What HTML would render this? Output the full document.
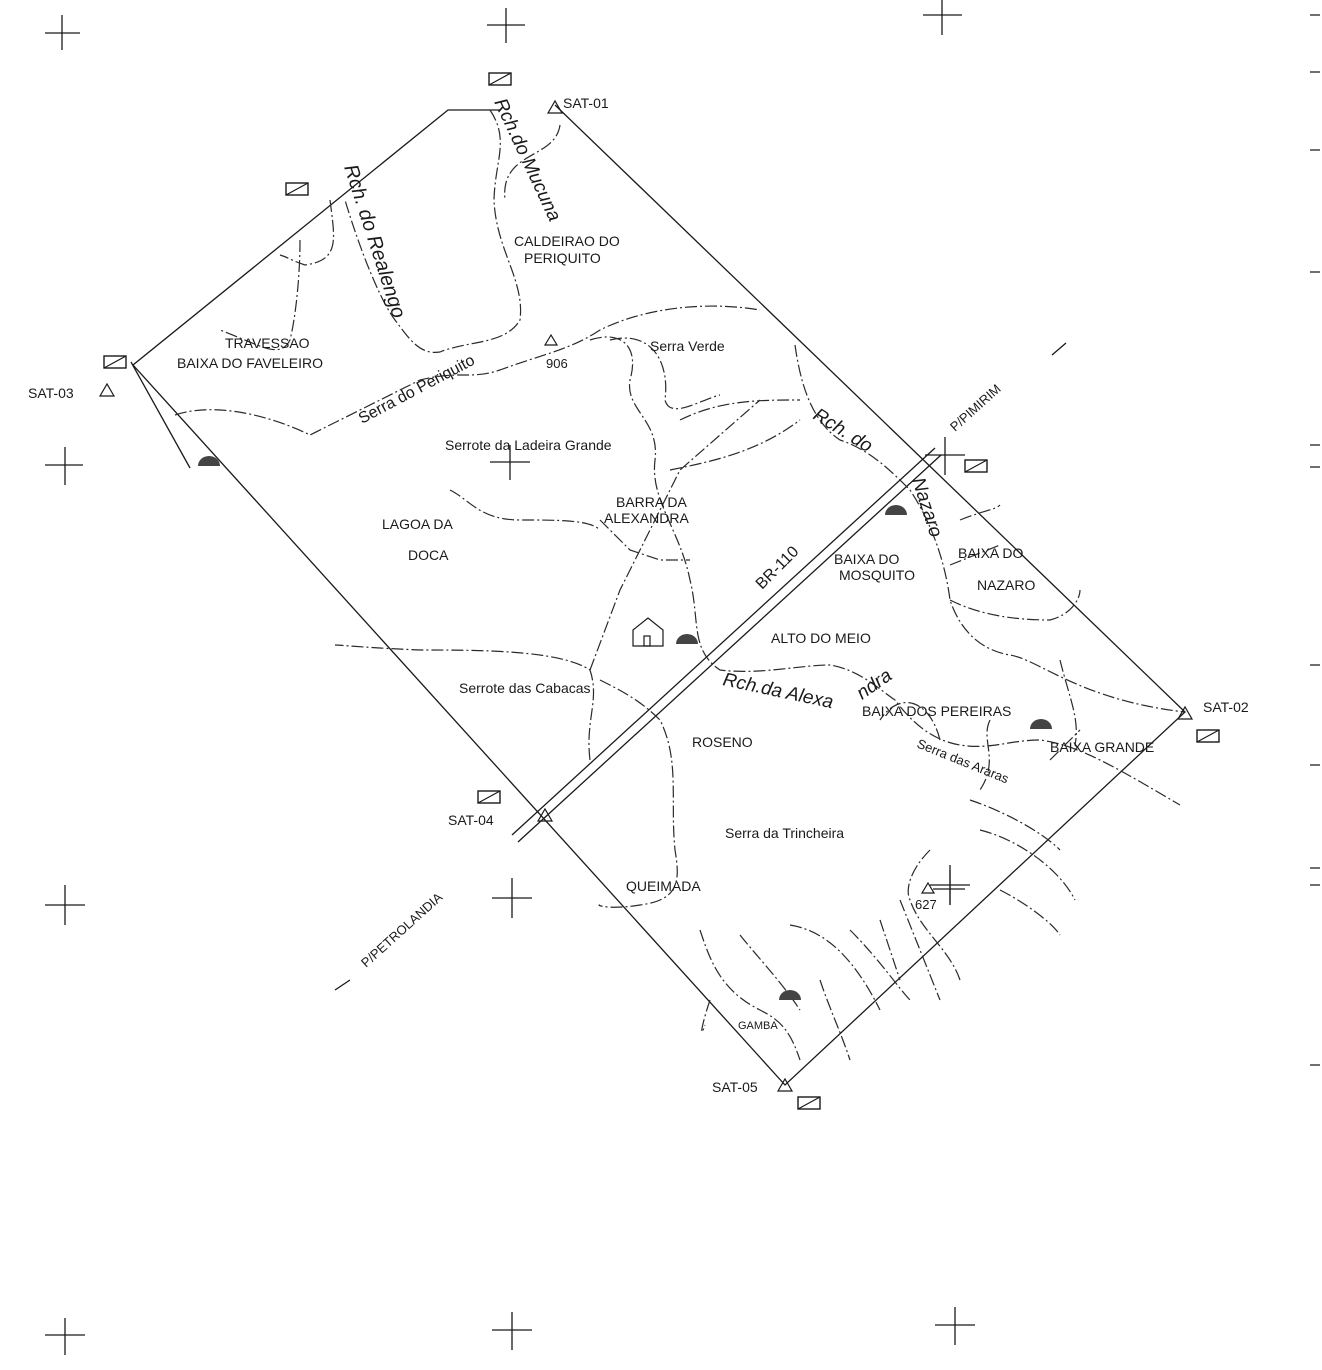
<!DOCTYPE html>
<html><head><meta charset="utf-8"><style>
html,body{margin:0;padding:0;background:#fff;}
svg{display:block;}
text{font-family:"Liberation Sans",sans-serif;fill:#1a1a1a;}
</style></head><body>
<svg width="1322" height="1370" viewBox="0 0 1322 1370" xmlns="http://www.w3.org/2000/svg">
<g stroke="#1a1a1a" stroke-width="1.3" fill="none">
<path d="M45 33H80M62 15V50 M487 25H525M506 8V43 M923 15H962M942 0V35 M45 465H83M65 447V485 M490 462H530M510 445V480 M925 455H965M945 437V475 M45 905H85M65 885V925 M492 898H532M512 878V918 M930 885H970M950 865V905 M45 1335H85M65 1318V1355 M492 1330H532M512 1312V1350 M935 1325H975M955 1307V1345"/>
<path d="M1310 15H1320M1310 72H1320M1310 150H1320M1310 272H1320M1310 445H1320M1310 467H1320M1310 665H1320M1310 765H1320M1310 868H1320M1310 885H1320M1310 1065H1320"/>
<path d="M500 110H448L133 365L785 1085L1185 712L555 105"/>
<path d="M131 362L190 468" />
<path d="M512 835L935 448M518 842L941 455"/>
<path d="M335 990L350 980M1052 355L1066 343"/>
</g>
<g stroke="#2a2a2a" stroke-width="1.2" fill="none" stroke-dasharray="12 3 2 3">
<path d="M490 110C510 140 495 160 494 200C496 250 525 280 520 320C505 345 470 340 440 352C420 355 410 340 395 320C380 300 360 250 345 200"/>
<path d="M560 125C555 160 500 150 505 200"/>
<path d="M175 415C220 400 280 420 310 435C340 420 380 400 420 380C460 370 470 380 500 370C540 355 570 350 600 330C640 310 700 300 760 310"/>
<path d="M590 340C620 330 640 345 630 380C625 410 660 420 655 460C650 500 680 530 690 580C700 620 690 650 720 670C760 675 800 665 830 665C860 670 880 690 895 700C910 720 930 740 960 745C990 750 1010 740 1040 740C1080 745 1120 770 1180 805"/>
<path d="M610 340C650 330 670 360 665 400C670 420 700 400 720 395"/>
<path d="M795 345C800 380 810 420 840 440C870 450 890 470 910 490C930 520 945 560 950 600C960 630 980 650 1010 655C1040 660 1080 700 1185 712"/>
<path d="M450 490C470 500 480 520 520 520C560 520 590 520 600 530"/>
<path d="M600 520L630 550L660 560L690 560"/>
<path d="M670 470C720 460 760 450 800 420"/>
<path d="M680 420C720 400 760 400 800 400"/>
<path d="M590 670L620 590L680 470L760 400"/>
<path d="M590 760C585 720 600 700 590 670C560 650 480 650 420 650C370 648 340 645 335 645"/>
<path d="M600 680C620 690 640 700 660 720C680 760 670 800 675 850C680 880 680 900 640 905C610 910 595 905 600 905"/>
<path d="M300 240C300 280 295 320 290 340C280 360 260 345 220 330"/>
<path d="M330 200C335 240 340 260 305 265C290 260 290 258 280 255"/>
<path d="M940 740C930 700 900 690 880 720"/>
<path d="M960 520C985 510 995 510 1000 505M950 565L1000 545"/>
<path d="M950 600C970 610 1000 620 1050 620C1070 615 1080 600 1080 590"/>
<path d="M1060 660C1070 700 1080 720 1075 745L1080 750M1050 760L1080 730"/>
<path d="M990 720C980 740 1000 760 980 790"/>
<path d="M970 800C1000 810 1040 830 1060 850M980 830C1020 840 1060 870 1075 900"/>
<path d="M930 850C910 870 905 890 910 900C920 930 950 950 960 980M900 900L940 1000"/>
<path d="M880 920L900 980M850 930C880 960 900 990 910 1000"/>
<path d="M790 925C820 930 850 950 880 1010"/>
<path d="M740 935C760 960 780 980 800 1010"/>
<path d="M700 930C710 960 720 990 760 1010C780 1020 790 1030 800 1060"/>
<path d="M710 1000C700 1030 700 1040 705 1025M820 980C830 1010 840 1030 850 1060"/>
<path d="M1000 890C1020 900 1050 920 1060 935"/>
</g>
<g stroke="#1a1a1a" stroke-width="1.4" fill="#fff">
<rect x="489" y="73" width="22" height="12"/><rect x="286" y="183" width="22" height="12"/>
<rect x="104" y="356" width="22" height="12"/><rect x="965" y="460" width="22" height="12"/>
<rect x="1197" y="730" width="22" height="12"/><rect x="478" y="791" width="22" height="12"/>
<rect x="798" y="1097" width="22" height="12"/>
</g>
<g stroke="#1a1a1a" stroke-width="1.2" fill="none">
<path d="M489 85L511 73M286 195L308 183M104 368L126 356M965 472L987 460M1197 742L1219 730M478 803L500 791M798 1109L820 1097"/>
<path d="M548 113L555 101L562 113Z M100 396L107 384L114 396Z M1178 719L1185 707L1192 719Z M538 821L545 809L552 821Z M778 1091L785 1079L792 1091Z M545 345L551 335L557 345Z M922 893L928 883L934 893Z"/>
<path d="M933 889H965M950 870V905"/>
<path d="M633 630L648 618L663 630V646H633Z"/><rect x="644" y="636" width="6" height="10"/>
</g>
<g fill="#444">
<path d="M198 466A11 10 0 0 1 220 466Z"/><path d="M676 644A11 10 0 0 1 698 644Z"/>
<path d="M885 515A11 10 0 0 1 907 515Z"/><path d="M1030 729A11 10 0 0 1 1052 729Z"/>
<path d="M779 1000A11 10 0 0 1 801 1000Z"/>
</g>
<g font-size="14">
<text x="563" y="108">SAT-01</text>
<text x="28" y="398">SAT-03</text>
<text x="1203" y="712">SAT-02</text>
<text x="448" y="825">SAT-04</text>
<text x="712" y="1092">SAT-05</text>
<text x="514" y="246">CALDEIRAO DO</text>
<text x="524" y="263">PERIQUITO</text>
<text x="225" y="348">TRAVESSAO</text>
<text x="177" y="368">BAIXA DO FAVELEIRO</text>
<text x="546" y="368" font-size="13">906</text>
<text x="650" y="351">Serra Verde</text>
<text x="445" y="450">Serrote da Ladeira Grande</text>
<text x="382" y="529">LAGOA DA</text>
<text x="408" y="560">DOCA</text>
<text x="616" y="507">BARRA DA</text>
<text x="604" y="523">ALEXANDRA</text>
<text x="834" y="564">BAIXA DO</text>
<text x="839" y="580">MOSQUITO</text>
<text x="958" y="558">BAIXA DO</text>
<text x="977" y="590">NAZARO</text>
<text x="771" y="643">ALTO DO MEIO</text>
<text x="459" y="693">Serrote das Cabacas</text>
<text x="692" y="747">ROSENO</text>
<text x="862" y="716">BAIXA DOS PEREIRAS</text>
<text x="1050" y="752">BAIXA GRANDE</text>
<text x="725" y="838">Serra da Trincheira</text>
<text x="626" y="891">QUEIMADA</text>
<text x="915" y="909" font-size="13">627</text>
<text x="738" y="1029" font-size="11">GAMBA</text>
<text x="0" y="0" font-size="19" font-style="italic" transform="translate(494 102) rotate(65)">Rch.do Mucuna</text>
<text x="0" y="0" font-size="20" font-style="italic" transform="translate(344 167) rotate(72)">Rch. do Realengo</text>
<text x="0" y="0" font-size="16" transform="translate(362 424) rotate(-28)">Serra do Periquito</text>
<text x="0" y="0" font-size="19" font-style="italic" transform="translate(812 418) rotate(32)">Rch. do</text>
<text x="0" y="0" font-size="19" font-style="italic" transform="translate(912 480) rotate(72)">Nazaro</text>
<text x="0" y="0" font-size="16" transform="translate(762 590) rotate(-45)">BR-110</text>
<text x="0" y="0" font-size="19" font-style="italic" transform="translate(722 685) rotate(12)">Rch.da Alexa</text>
<text x="0" y="0" font-size="19" font-style="italic" transform="translate(862 700) rotate(-35)">ndra</text>
<text x="0" y="0" font-size="13" transform="translate(916 747) rotate(22)">Serra das Araras</text>
<text x="0" y="0" font-size="13" transform="translate(955 432) rotate(-42)">P/PIMIRIM</text>
<text x="0" y="0" font-size="13" transform="translate(366 968) rotate(-42)">P/PETROLANDIA</text>
</g>
</svg>
</body></html>
